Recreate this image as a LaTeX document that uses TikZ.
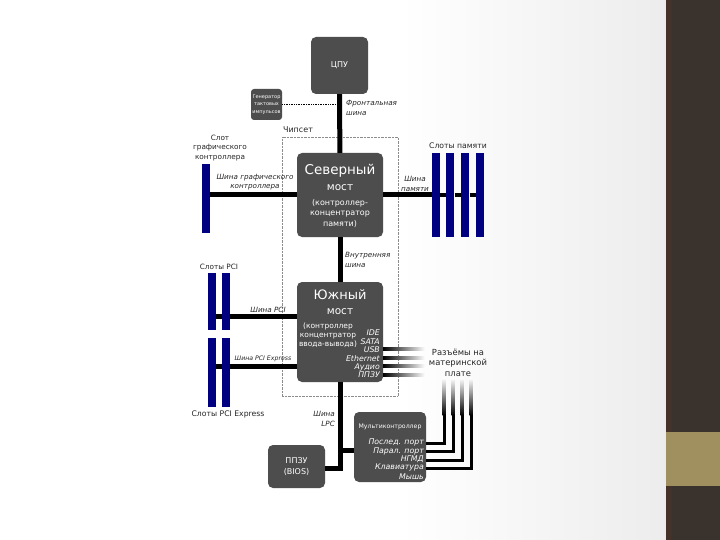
\documentclass[tikz,border=0pt]{standalone}
\usepackage{fontspec}
\setmainfont{DejaVu Sans}
\definecolor{chipgray}{HTML}{4D4D4D}
\definecolor{slotblue}{HTML}{000080}
\definecolor{panel}{HTML}{3A332D}
\definecolor{paneledge}{HTML}{42322A}
\definecolor{olive}{HTML}{A09060}
\usetikzlibrary{positioning}

\begin{document}
\begin{tikzpicture}[x=1pt, y=-1pt, node distance=0pt and 6pt,
  chip/.style={fill=chipgray, rounded corners=5pt, text=white, align=center, inner sep=0pt},
  slot/.style={fill=slotblue, minimum width=8pt, inner sep=0pt},
  lbl/.style={align=center, font=\fontsize{7.3}{9.5}\selectfont, inner sep=0pt, text=black!85},
  ilbl/.style={lbl, font=\fontsize{7.2}{9.5}\selectfont\itshape},
  port/.style={anchor=east, text=white, inner sep=0pt, font=\fontsize{7.8}{8}\selectfont\itshape},
  chiptext/.style={text=white, align=center, inner sep=0pt},
  bus/.style={line width=5pt, black},
  thinbus/.style={line width=3.5pt, black}]
  \useasboundingbox (0,0) rectangle (720,540);
  % slide background
  \fill[white] (0,0) rectangle (666,540);
  \begin{scope}
    \clip (400,0) rectangle (666,540);
    \shade[left color=white, right color=black!11] (400,0) rectangle (800,540);
  \end{scope}
  \fill[panel] (666,0) rectangle (720,540);
  \fill[paneledge] (666,0) rectangle (672,540);
  \fill[olive] (666,432) rectangle (720,486);
  % chipset frame
  \node[draw=black!45, densely dotted, line width=0.4pt, minimum width=116pt, minimum height=259pt, inner sep=0pt] (chipset) at (340,266.5) {};
  \node[lbl, font=\fontsize{8}{10}\selectfont] (chipsetlabel) at (298,130) {Чипсет};
  % chips
  \node[chip, minimum width=57pt, minimum height=57pt, font=\fontsize{8}{10}\selectfont] (cpu) at (339.5,65.5) {ЦПУ};
  \node[chip, minimum width=31pt, minimum height=31pt, rounded corners=3pt, font=\fontsize{5}{7.5}\selectfont] (clock) at (266.5,104.5) {Генератор\\тактовых\\импульсов};
  \node[chip, minimum width=86pt, minimum height=84pt] (north) at (340,195) {};
  \node[chiptext, font=\fontsize{13.5}{17}\selectfont] (northtitle) at (340,170.5) {Северный};
  \node[chiptext, font=\fontsize{10.5}{14}\selectfont] (northbridge) at (340,188) {мост};
  \node[chiptext, font=\fontsize{8}{10.5}\selectfont] (northsub) at (340,213) {(контроллер-\\концентратор\\памяти)};
  \node[chip, minimum width=86pt, minimum height=100pt] (south) at (340,332) {};
  \node[chiptext, font=\fontsize{13}{17}\selectfont] (southtitle) at (340,295) {Южный};
  \node[chiptext, font=\fontsize{10.5}{14}\selectfont] (southbridge) at (340,312) {мост};
  \node[chiptext, font=\fontsize{7.5}{9}\selectfont] (southsub) at (328,335) {(контроллер\\концентратор\\ввода-вывода)};
  \node[chip, minimum width=57pt, minimum height=43pt, font=\fontsize{8}{11}\selectfont] (bios) at (296.5,466.5) {ППЗУ\\(BIOS)};
  \node[chip, minimum width=72pt, minimum height=70pt] (superio) at (390,447) {};
  \node[chiptext, font=\fontsize{6.2}{7}\selectfont] (superiotitle) at (390,427) {Мультиконтроллер};
  % slots
  \node[slot, minimum height=69pt] (gfxslot) at (205.5,198.5) {};
  \node[slot, minimum height=84pt] (mema) at (436,195) {};
  \node[slot, minimum height=84pt, right=of mema] (memb) {};
  \node[slot, minimum height=84pt, right=of memb, xshift=0.5pt] (memc) {};
  \node[slot, minimum height=84pt, right=of memc] (memd) {};
  \node[slot, minimum height=57pt] (pcia) at (212,301.5) {};
  \node[slot, minimum height=57pt, right=of pcia] (pcib) {};
  \node[slot, minimum height=69pt] (pciea) at (212,372.5) {};
  \node[slot, minimum height=69pt, right=of pciea] (pcieb) {};
  % buses
  \draw[bus] (cpu) -- (north);
  \draw[bus] (north) -- (south);
  \draw[densely dotted, line width=0.7pt] (clock) -- (clock -| cpu);
  \draw[bus] (north.west) -- (north -| gfxslot.east);
  \draw[bus] (north.east) -- (north -| mema.west);
  \draw[thinbus] (mema.east) -- (memb.west);
  \draw[thinbus] (memb.east) -- (memc.west);
  \draw[thinbus] (memc.east) -- (memd.west);
  \coordinate (pcibus) at (230,316);
  \coordinate (pciebus) at (230,366);
  \draw[bus] (pcibus) -- (pcibus -| south.west);
  \draw[bus] (pciebus) -- (pciebus -| south.west);
  \draw[bus] (pcibus -| pcia.east) -- (pcibus -| pcib.west);
  \draw[bus] (pciebus -| pciea.east) -- (pciebus -| pcieb.west);
  \coordinate (lpcbios) at (342.5,468);
  \coordinate (lpcio) at (340,450);
  \draw[bus] (south.south) -- (340,470.5);
  \draw[bus] (lpcbios) -- (lpcbios -| bios.east);
  \draw[bus] (lpcio) -- (lpcio -| superio.west);
  % ports
  \node[port] (ide) at (380,333) {IDE};
  \node[port] (sata) at (380,341.5) {SATA};
  \node[port] (usb) at (380,350) {USB};
  \node[port] (eth) at (380,358.5) {Ethernet};
  \node[port] (audio) at (380,367) {Аудио};
  \node[port] (rom) at (380,375) {ППЗУ};
  \node[port] (serial) at (424,442) {Послед. порт};
  \node[port] (parallel) at (424,451) {Парал. порт};
  \node[port] (floppy) at (424,459.5) {НГМД};
  \node[port] (keyboard) at (424,467.5) {Клавиатура};
  \node[port] (mouse) at (424,476.5) {Мышь};
  % fading lines to the connectors
  \foreach \y in {349,357.5,366,374.5}
    \shade[left color=black, right color=white] (383,\y-1.5) rectangle (425,\y+1.5);
  \foreach \x/\y in {444/443,453/451.5,462/460,471/468.5} {
    \fill[black] (426,\y-1.5) rectangle (\x+1.5,\y+1.5);
    \fill[black] (\x-1.5,\y+1.5) rectangle (\x+1.5,410);
    \shade[top color=white, bottom color=black] (\x-1.5,378) rectangle (\x+1.5,415);
  }
  % bus labels
  \node[ilbl, align=left, anchor=west] (fsblabel) at (346,108) {Фронтальная\\шина};
  \node[lbl] (gfxslotlabel) at (220,148) {Слот\\графического\\контроллера};
  \node[ilbl] (gfxbuslabel) at (255,182) {Шина графического\\контроллера};
  \node[ilbl] (membuslabel) at (415,184) {Шина\\памяти};
  \node[lbl, font=\fontsize{7.7}{9.5}\selectfont] (memlabel) at (458,146) {Слоты памяти};
  \node[ilbl, align=left, anchor=west] (intbuslabel) at (345,260) {Внутренняя\\шина};
  \node[lbl] (pcilabel) at (219,267) {Слоты PCI};
  \node[ilbl] (pcibuslabel) at (268,310) {Шина PCI};
  \node[ilbl, font=\fontsize{6.2}{8}\selectfont\itshape] (pciebuslabel) at (263,359) {Шина PCI Express};
  \node[lbl, font=\fontsize{8.4}{10.5}\selectfont] (conlabel) at (458,362.5) {Разъёмы на\\материнской\\плате};
  \node[lbl, font=\fontsize{7.7}{9.5}\selectfont] (pcielabel) at (228,414) {Слоты PCI Express};
  \node[ilbl, align=right, anchor=east] (lpclabel) at (335,419) {Шина\\LPC};
\end{tikzpicture}
\end{document}
